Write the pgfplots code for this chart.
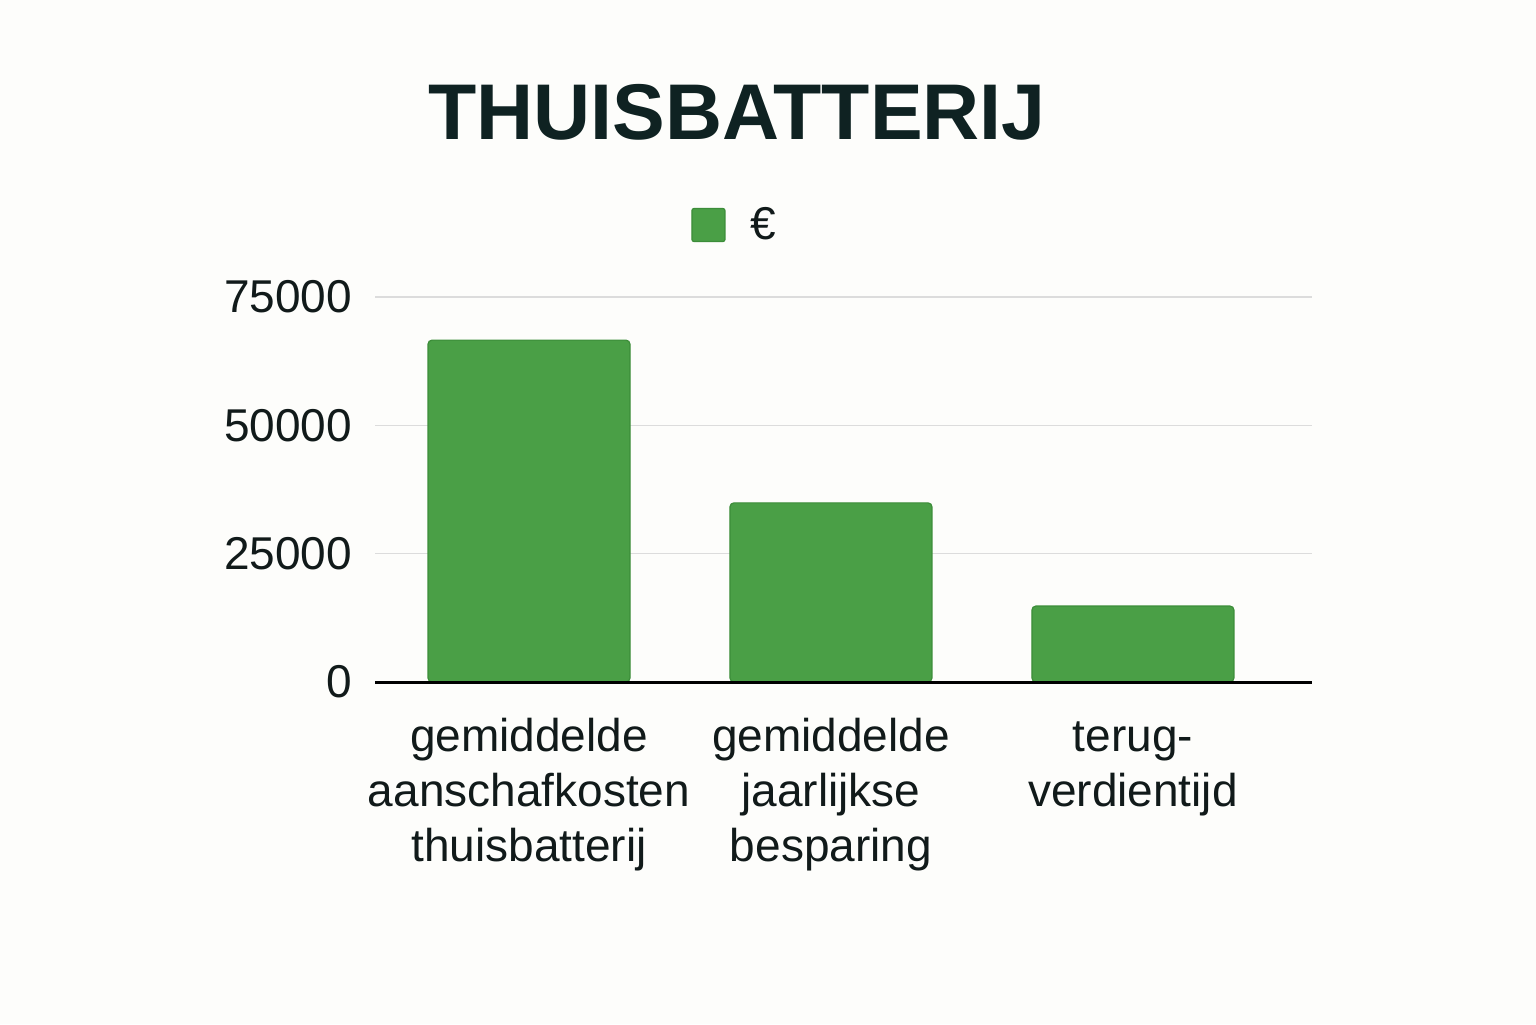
\documentclass[border=0pt]{standalone}
\usepackage{pgfplots}
\pgfplotsset{compat=1.18}
\usepackage{fontspec}
\setmainfont{Liberation Sans}

\definecolor{bargreen}{HTML}{4A9F46}
\definecolor{bardark}{HTML}{3C8D39}
\definecolor{inkdark}{HTML}{111A1A}
\definecolor{titleink}{HTML}{0F2222}
\definecolor{gridgray}{HTML}{DCDCDC}
\definecolor{paper}{HTML}{FDFDFB}

\begin{document}
\begin{tikzpicture}
\fill[paper] (0,0) rectangle (768pt,512pt);
\path[use as bounding box] (0,0) rectangle (768pt,512pt);

\node[font=\fontsize{39.5}{44}\selectfont\bfseries, text=titleink] at (368.5pt,456pt) {THUISBATTERIJ};

\begin{axis}[
    at={(187.5pt,171pt)}, anchor=south west,
    scale only axis,
    width=468.5pt, height=192.5pt,
    xmin=-0.51, xmax=2.593,
    ymin=0, ymax=75000,
    ytick={0,25000,50000,75000},
    xtick={0,1,2},
    xticklabels={{\strut gemiddelde\\aanschafkosten\\thuisbatterij},{\strut gemiddelde\\jaarlijkse\\besparing},{\strut terug-\\verdientijd}},
    scaled y ticks=false,
    /pgf/number format/1000 sep={},
    /pgf/number format/assume math mode=true,
    axis x line*=bottom,
    axis y line*=left,
    x axis line style={draw=black, line width=1.5pt},
    y axis line style={draw=none},
    major tick length=0pt,
    ymajorgrids=true,
    grid style={gridgray, line width=0.75pt},
    yticklabel style={font=\fontsize{23}{27}\selectfont, text=inkdark, xshift=-8pt},
    xticklabel style={font=\fontsize{23}{27.5}\selectfont, text=inkdark, align=center, yshift=-12pt},
    legend style={at={(0.385,1.187)}, anchor=center, draw=none, fill=none,
        font=\fontsize{23}{27}\selectfont, text=inkdark},
    legend image code/.code={\draw[fill=bargreen, draw=bardark, rounded corners=1pt] (0pt,-8.25pt) rectangle (16.5pt,8.25pt); \path (27pt,0pt);},
]
\addplot[ybar, bar width=101pt, bar shift=0pt, fill=bargreen, draw=bardark, line width=0.6pt, rounded corners=2pt]
    coordinates {(0,66600) (1,34900) (2,14800)};
\addlegendentry{€}
\draw[black, line width=1.5pt] (axis cs:-0.51,0) -- (axis cs:2.593,0);
\end{axis}
\end{tikzpicture}
\end{document}
